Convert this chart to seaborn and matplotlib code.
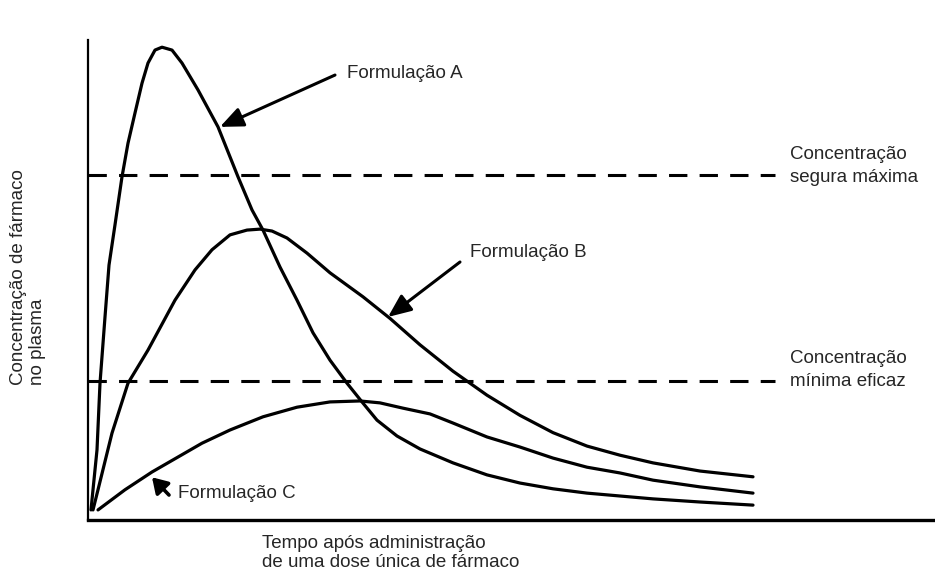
#! /usr/bin/env python3

"""
Curvas de concentração plasmática de três formulações (dose única)
"""

import numpy as np
import pandas as pd
import matplotlib
matplotlib.use('Agg')
import matplotlib.pyplot as plt
import seaborn as sns

# tempo (unidade arbitrária) e concentração (% do eixo)
tempo_a = [0.3, 0.5, 0.9, 1.2, 1.7, 2.1, 2.7, 3.4, 4.0, 4.7, 5.4, 6.0, 6.7, 7.4,
           8.4, 9.4, 11.0, 13.0, 15.0, 16.4, 17.5, 19.2, 20.9, 22.5, 24.2, 25.9,
           27.4, 28.9, 30.9, 33.2, 36.5, 39.9, 43.2, 46.5, 49.9, 53.2, 56.5,
           61.2, 66.5]
conc_a = [2.1, 6.3, 14.6, 28.5, 42.3, 53.1, 61.5, 71.5, 78.5, 84.8, 91.0, 95.2,
          97.9, 98.5, 97.9, 95.2, 89.6, 81.9, 71.5, 64.6, 60.4, 52.7, 45.8, 39.0,
          33.3, 28.5, 24.6, 20.8, 17.5, 14.8, 11.9, 9.4, 7.7, 6.5, 5.6, 5.0, 4.4,
          3.75, 3.1]

tempo_b = [0.5, 1.0, 2.4, 4.0, 6.0, 8.7, 10.7, 12.4, 14.2, 15.9, 17.2, 18.4,
           19.9, 21.9, 24.2, 27.5, 30.2, 33.2, 36.5, 39.9, 43.2, 46.5, 49.9,
           53.2, 56.5, 61.2, 66.5]
conc_b = [2.1, 6.3, 18.1, 28.5, 35.4, 45.8, 52.1, 56.3, 59.4, 60.4, 60.6, 60.2,
          58.75, 55.6, 51.5, 46.5, 42.0, 36.5, 31.0, 26.0, 21.8, 18.2, 15.4,
          13.5, 11.9, 10.2, 9.0]

tempo_c = [1.0, 3.7, 6.4, 11.4, 14.2, 17.5, 20.9, 24.2, 27.2, 29.2, 31.5, 34.2,
           36.5, 39.9, 43.2, 46.5, 49.9, 53.2, 56.5, 61.2, 66.5]
conc_c = [2.1, 6.3, 10.0, 16.0, 18.75, 21.5, 23.5, 24.6, 24.8, 24.4, 23.3, 22.1,
          20.2, 17.3, 15.2, 12.9, 11.0, 9.8, 8.3, 6.9, 5.6]

formulacoes = ['Formulação A', 'Formulação B', 'Formulação C']

# limites terapêuticos
conc_maxima_segura = 71.9
conc_minima_eficaz = 29.0
tempo_limites = [0.0, 68.7]

df = pd.concat([
    pd.DataFrame({'tempo': tempo_a, 'conc': conc_a, 'form': formulacoes[0]}),
    pd.DataFrame({'tempo': tempo_b, 'conc': conc_b, 'form': formulacoes[1]}),
    pd.DataFrame({'tempo': tempo_c, 'conc': conc_c, 'form': formulacoes[2]}),
], ignore_index=True)

sns.set_theme(style='white')
plt.rcParams['font.family'] = ['Liberation Sans', 'DejaVu Sans']

fig = plt.figure(figsize=(9.35, 5.82), dpi=100)
ax = fig.add_axes([88 / 935, 62 / 582, 847 / 935, 480 / 582])

sns.lineplot(data=df, x='tempo', y='conc', hue='form', units='form', estimator=None,
             sort=False, palette=['black'] * 3, linewidth=2.3, legend=False, ax=ax)
for ln in ax.lines:
    ln.set_solid_capstyle('round')
    ln.set_solid_joinstyle('round')

# linhas tracejadas dos limites
for nivel in [conc_maxima_segura, conc_minima_eficaz]:
    sns.lineplot(x=tempo_limites, y=[nivel, nivel], color='black', linewidth=2.2,
                 ax=ax)
    ax.lines[-1].set_dashes((6, 4))

ax.set_xlim(0, 84.7)
ax.set_ylim(0, 100)
ax.set_xticks([])
ax.set_yticks([])
ax.set_xlabel('')
ax.set_ylabel('')
sns.despine(ax=ax)
ax.spines['left'].set_linewidth(1.6)
ax.spines['bottom'].set_linewidth(2.4)
ax.spines['left'].set_color('black')
ax.spines['bottom'].set_color('black')

fs = 13.5
seta = dict(arrowstyle='-|>,head_length=0.7,head_width=0.3', lw=2.2,
            color='black', mutation_scale=20, shrinkA=0, shrinkB=0)
seta_curta = dict(arrowstyle='-|>,head_length=0.45,head_width=0.28', lw=2.6,
                  color='black', mutation_scale=20, shrinkA=0, shrinkB=0)

# rótulos das formulações com setas
ax.text(25.9, 93.1, formulacoes[0], fontsize=fs, ha='left', va='center')
ax.annotate('', xy=(13.2, 81.9), xytext=(24.7, 92.7), arrowprops=seta)

ax.text(38.2, 55.8, formulacoes[1], fontsize=fs, ha='left', va='center')
ax.annotate('', xy=(30.0, 42.3), xytext=(37.2, 53.75), arrowprops=seta)

ax.text(9.0, 5.6, formulacoes[2], fontsize=fs, ha='left', va='center')
ax.annotate('', xy=(6.4, 8.9), xytext=(8.1, 5.2), arrowprops=seta_curta)

# rótulos dos limites
ax.text(70.2, 73.75, 'Concentração\nsegura máxima', fontsize=fs, ha='left',
        va='center', linespacing=1.45, clip_on=False)
ax.text(70.2, 31.25, 'Concentração\nmínima eficaz', fontsize=fs, ha='left',
        va='center', linespacing=1.45, clip_on=False)

# títulos dos eixos
ax.text(17.4, -6.9, 'Tempo após administração\nde uma dose única de fármaco',
        fontsize=fs, ha='left', va='center', linespacing=1.15, clip_on=False)
ax.text(-6.0, 28.1, 'Concentração de fármaco\nno plasma', fontsize=fs,
        rotation=90, ha='center', va='bottom', multialignment='left',
        linespacing=1.1, clip_on=False)

fig.savefig('out.png', dpi=100)
